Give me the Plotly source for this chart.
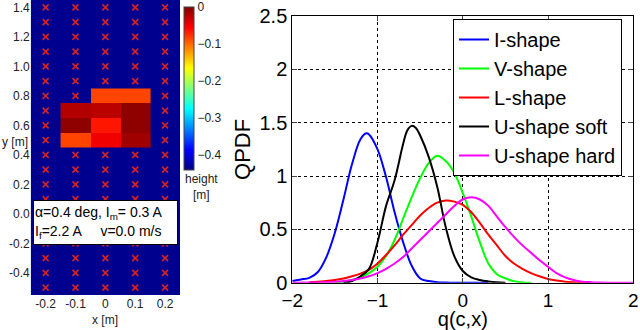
import plotly.graph_objects as go

# ---- left panel: height map ----
cell_x = [-0.1, 0.0, 0.1]
cell_y = [0.5, 0.6, 0.7, 0.8]
height = [
    [-0.084, -0.048, -0.014],
    [-0.006, -0.064, -0.006],
    [-0.021, -0.025, -0.006],
    [None, -0.084, -0.084],
]
marker_cols = [-0.2, -0.1, 0.0, 0.1, 0.2]
marker_rows = [-0.5, -0.4, -0.3, -0.2, -0.1, 0.0, 0.1, 0.2, 0.3, 0.4,
               0.5, 0.6, 0.7, 0.8, 0.9, 1.0, 1.1, 1.2, 1.3, 1.4]
cbar_ticks = [0, -0.1, -0.2, -0.3, -0.4]

# ---- right panel: QPDF curves ----
q_i = [-2.0, -1.9, -1.8, -1.7, -1.6, -1.5, -1.4, -1.3, -1.2, -1.13, -1.1, -1.0,
       -0.9, -0.8, -0.7, -0.6, -0.5, -0.4, -0.3, -0.2, -0.1, 0.0, 0.1, 0.2, 0.3]
p_i = [0.015, 0.03, 0.045, 0.10, 0.24, 0.47, 0.78, 1.11, 1.345, 1.40, 1.39, 1.25,
       0.99, 0.66, 0.38, 0.16, 0.04, 0.015, 0.005, 0.002, 0.0, 0.0, 0.0, 0.0, 0.0]

q_v = [-1.5, -1.4, -1.3, -1.2, -1.1, -1.0, -0.9, -0.8, -0.7, -0.6, -0.5, -0.4,
       -0.3, -0.2, -0.1, 0.0, 0.1, 0.2, 0.3, 0.4, 0.5, 0.6, 0.7, 0.8]
p_v = [0.0, 0.01, 0.025, 0.05, 0.09, 0.15, 0.25, 0.40, 0.60, 0.80, 0.98, 1.12,
       1.19, 1.14, 1.03, 0.84, 0.62, 0.38, 0.18, 0.08, 0.04, 0.015, 0.003, 0.0]

q_l = [-1.8, -1.7, -1.6, -1.5, -1.4, -1.3, -1.2, -1.1, -1.0, -0.9, -0.8, -0.7,
       -0.6, -0.5, -0.4, -0.3, -0.2, -0.1, 0.0, 0.1, 0.2, 0.3, 0.4, 0.5, 0.6,
       0.7, 0.8, 0.9, 1.0, 1.1, 1.2, 1.3, 1.4, 1.5]
p_l = [0.005, 0.01, 0.015, 0.025, 0.04, 0.06, 0.085, 0.12, 0.18, 0.26, 0.35, 0.45,
       0.54, 0.63, 0.70, 0.75, 0.77, 0.76, 0.73, 0.66, 0.56, 0.45, 0.35, 0.25, 0.18,
       0.13, 0.09, 0.06, 0.035, 0.02, 0.01, 0.005, 0.002, 0.0]

q_us = [-1.4, -1.3, -1.2, -1.1, -1.0, -0.9, -0.8, -0.7, -0.65, -0.6, -0.55, -0.5,
        -0.4, -0.3, -0.2, -0.1, 0.0, 0.1, 0.2, 0.3, 0.4, 0.5]
p_us = [0.0, 0.015, 0.06, 0.13, 0.38, 0.72, 0.96, 1.30, 1.43, 1.47, 1.45, 1.38,
        1.18, 0.90, 0.52, 0.25, 0.11, 0.05, 0.025, 0.012, 0.004, 0.0]

q_uh = [-2.0, -1.8, -1.6, -1.5, -1.4, -1.3, -1.2, -1.1, -1.0, -0.9, -0.8, -0.7,
        -0.6, -0.5, -0.4, -0.3, -0.2, -0.1, 0.0, 0.1, 0.2, 0.3, 0.4, 0.5, 0.6,
        0.7, 0.8, 0.9, 1.0, 1.1, 1.2, 1.3, 1.4, 1.5, 1.6, 1.8, 2.0]
p_uh = [0.0, 0.002, 0.005, 0.008, 0.015, 0.025, 0.04, 0.06, 0.09, 0.13, 0.18, 0.24,
        0.32, 0.40, 0.48, 0.56, 0.64, 0.72, 0.78, 0.80, 0.78, 0.72, 0.62, 0.52, 0.43,
        0.35, 0.28, 0.21, 0.15, 0.09, 0.05, 0.025, 0.01, 0.005, 0.002, 0.0, 0.0]

curves = [
    ("I-shape", q_i, p_i, "rgb(0,0,255)"),
    ("V-shape", q_v, p_v, "rgb(0,255,0)"),
    ("L-shape", q_l, p_l, "rgb(255,0,0)"),
    ("U-shape soft", q_us, p_us, "black"),
    ("U-shape hard", q_uh, p_uh, "rgb(255,0,255)"),
]

jet = [[0, "rgb(0,0,128)"], [0.125, "rgb(0,0,255)"], [0.375, "rgb(0,255,255)"],
       [0.625, "rgb(255,255,0)"], [0.875, "rgb(255,0,0)"], [1, "rgb(128,0,0)"]]

FONT = "Liberation Sans, Arial, sans-serif"
W, H = 640, 330

# markers hidden under the coloured cells
covered = set()
for j, yv in enumerate(cell_y):
    for i, xv in enumerate(cell_x):
        if height[j][i] is not None:
            covered.add((round(xv, 2), round(yv, 2)))
mx, my = [], []
for r in marker_rows:
    for c in marker_cols:
        if (round(c, 2), round(r, 2)) not in covered:
            mx.append(c)
            my.append(r)

fig = go.Figure()

fig.add_trace(go.Scatter(x=mx, y=my, mode="markers", showlegend=False,
                         marker=dict(symbol="x-thin", size=6,
                                     line=dict(color="rgb(215,35,35)", width=1.6)),
                         xaxis="x", yaxis="y"))

fig.add_trace(go.Heatmap(x=cell_x, y=cell_y, z=height, zmin=-0.44, zmax=0.0005,
                         colorscale=jet, showscale=True, xaxis="x", yaxis="y",
                         colorbar=dict(x=184 / W, xanchor="left", thickness=10,
                                       len=(170 - 6.7) / H, lenmode="fraction",
                                       y=1 - 6.7 / H, yanchor="top",
                                       tickvals=cbar_ticks,
                                       ticktext=["0", "\u22120.1", "\u22120.2", "\u22120.3", "\u22120.4"],
                                       ticks="", outlinewidth=1, outlinecolor="#444",
                                       xpad=0, ypad=0,
                                       tickfont=dict(size=12, color="#222", family=FONT))))

for name, q, p, col in curves:
    fig.add_trace(go.Scatter(x=q, y=p, mode="lines", name=name,
                             line=dict(color=col, width=2, shape="spline"),
                             xaxis="x2", yaxis="y2"))

fig.update_layout(
    width=W, height=H, margin=dict(l=0, r=0, t=0, b=0, autoexpand=False),
    paper_bgcolor="white", plot_bgcolor="white",
    font=dict(family=FONT, color="black"),
    xaxis=dict(domain=[30.7 / W, 180 / W], range=[-0.25, 0.25], automargin=False,
               tickvals=[-0.2, -0.1, 0, 0.1, 0.2],
               ticktext=["-0.2", "-0.1", "0", "0.1", "0.2"],
               showgrid=False, zeroline=False, ticks="",
               tickfont=dict(size=12, color="#222")),
    yaxis=dict(domain=[1 - 295 / H, 1], range=[-0.55, 1.45], automargin=False,
               tickvals=[-0.4, -0.2, 0, 0.2, 0.4, 0.6, 0.8, 1.0, 1.2, 1.4],
               ticktext=["-0.4", "-0.2", "0.0", "0.2", "0.4", "0.6", "0.8", "1.0", "1.2", "1.4"],
               showgrid=False, zeroline=False, ticks="",
               tickfont=dict(size=12, color="#222")),
    xaxis2=dict(domain=[292.3 / W, 633.3 / W], range=[-2, 2], anchor="y2",
                automargin=False,
                tickvals=[-2, -1, 0, 1, 2], ticktext=["\u22122", "\u22121", "0", "1", "2"],
                showgrid=True, gridcolor="black", griddash="dot", gridwidth=1,
                zeroline=False, showline=True, linecolor="black", mirror="ticks",
                ticks="inside", ticklen=5, tickfont=dict(size=19),
                title=dict(text="q(c,x)", font=dict(size=20), standoff=0)),
    yaxis2=dict(domain=[1 - 282.7 / H, 1 - 16 / H], range=[0, 2.5], anchor="x2",
                automargin=False,
                tickvals=[0, 0.5, 1, 1.5, 2, 2.5],
                ticktext=["0", "0.5", "1", "1.5", "2", "2.5"],
                showgrid=True, gridcolor="black", griddash="dot", gridwidth=1,
                zeroline=False, showline=True, linecolor="black", mirror="ticks",
                ticks="inside", ticklen=5, tickfont=dict(size=20),
                title=dict(text="QPDF", font=dict(size=22), standoff=2)),
    legend=dict(x=453 / W, y=1 - 19 / H, xanchor="left", yanchor="top",
                bgcolor="white", bordercolor="black", borderwidth=1,
                font=dict(size=20), tracegroupgap=0, itemwidth=30),
    shapes=[dict(type="rect", xref="x", yref="y", x0=-0.25, x1=0.25, y0=-0.55, y1=1.45,
                 fillcolor="rgb(0,0,143)", line=dict(width=0), layer="below")],
)

fig.add_annotation(x=0, y=1 - 142 / H, xref="paper", yref="paper", xanchor="left",
                   yanchor="middle", text="y [m]", showarrow=False,
                   font=dict(size=12, color="#222"))
fig.add_annotation(x=105 / W, y=1 - 320 / H, xref="paper", yref="paper",
                   xanchor="center", yanchor="middle",
                   text="x [m]", showarrow=False, font=dict(size=12, color="#222"))
fig.add_annotation(x=201 / W, y=1 - 187 / H, xref="paper", yref="paper",
                   xanchor="center", yanchor="middle",
                   text="height<br>[m]", showarrow=False,
                   font=dict(size=12, color="#222"))
fig.add_annotation(x=105.5 / W, y=1 - 222.5 / H, xref="paper", yref="paper",
                   xanchor="center", yanchor="middle",
                   text="\u03b1=0.4 deg, I<sub>m</sub>= 0.3 A<br>I<sub>f</sub>=2.2 A     v=0.0 m/s",
                   showarrow=False, align="left", bgcolor="white",
                   bordercolor="black", borderwidth=1, width=141, height=41,
                   font=dict(size=14, color="black"))

fig.write_html("out.html", config={"displayModeBar": False},
               post_script="document.body.style.margin='0';")
